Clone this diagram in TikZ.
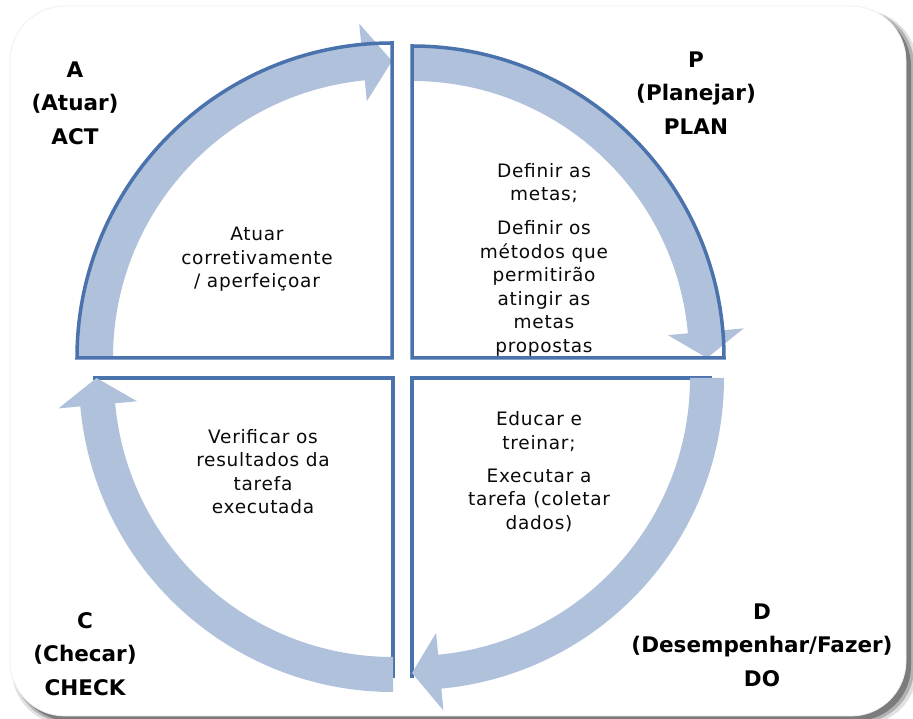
\documentclass[tikz,border=0pt]{standalone}
\usepackage{fontspec}
\setmainfont{DejaVu Sans}[LetterSpace=4]
\newfontfamily\labfont{DejaVu Sans}[LetterSpace=0]
\usetikzlibrary{calc}
\definecolor{bandc}{RGB}{176,193,219}
\definecolor{linec}{RGB}{74,114,172}
\definecolor{txtc}{RGB}{10,10,10}
\tikzset{
  band/.style={fill=bandc},
  pie/.style={draw=linec, line width=3.5pt, line join=miter},
  lab/.style={font=\labfont\bfseries\fontsize{21.5}{33.5}\selectfont, align=center, text=black, inner sep=0pt},
  body/.style={font=\fontsize{18.5}{23.5}\selectfont, align=center, text=txtc, inner sep=0pt}
}
\begin{document}
\begin{tikzpicture}[x=1pt,y=1pt]
\useasboundingbox (0,0) rectangle (913,719);
\fill[white] (0,0) rectangle (913,719);
% panel shadow
\fill[black, opacity=0.12] (12,-6) [rounded corners=55] rectangle (917,709);
\fill[black, opacity=0.2] (14,-4) [rounded corners=55] rectangle (914,709);
\fill[black, opacity=0.3] (15,-2) [rounded corners=55] rectangle (911,708);
% panel
\filldraw[fill=white, draw=black!6, line width=0.8pt] (10,3) [rounded corners=55] rectangle (906,713);

% centres
\coordinate (CTL) at (392,361);
\coordinate (CTR) at (412,361);
\coordinate (CBR) at (412,341);
\coordinate (CBL) at (393,341);

% bottom pies (outline under the arrows)
\fill[white] (CBR) -- ($(CBR)+(0:300)$) arc[start angle=0, end angle=-90, radius=300] -- cycle;
\draw[pie] ($(CBR)+(-90:300)$) -- (CBR) -- ($(CBR)+(0:300)$);
\fill[white] (CBL) -- ($(CBL)+(270:300)$) arc[start angle=270, end angle=180, radius=300] -- cycle;
\draw[pie] ($(CBL)+(180:300)$) -- (CBL) -- ($(CBL)+(270:300)$);

% top-left arrow (A)
\fill[band] ($(CTL)+(180:315)$) arc[start angle=180, end angle=95.6, radius=315]
  -- ($(CTL)+(95.6:336)$) -- ($(CTL)+(90:297)$) -- ($(CTL)+(95.6:258)$)
  -- ($(CTL)+(95.6:279)$) arc[start angle=95.6, end angle=180, radius=279] -- cycle;
% top-right arrow (P)
\fill[band] ($(CTR)+(90:312)$) arc[start angle=90, end angle=5.1, radius=312]
  -- ($(CTR)+(5.1:333)$) -- ($(CTR)+(0:295)$) -- ($(CTR)+(5.1:257)$)
  -- ($(CTR)+(5.1:277)$) arc[start angle=5.1, end angle=90, radius=277] -- cycle;
% bottom-right arrow (D)
\fill[band] ($(CBR)+(0:312)$) arc[start angle=0, end angle=-84.6, radius=312]
  -- ($(CBR)+(-84.6:334)$) -- ($(CBR)+(-90:295)$) -- ($(CBR)+(-84.6:256)$)
  -- ($(CBR)+(-84.6:278)$) arc[start angle=-84.6, end angle=0, radius=278] -- cycle;
% bottom-left arrow (C)
\fill[band] ($(CBL)+(270:314)$) arc[start angle=270, end angle=185.2, radius=314]
  -- ($(CBL)+(185.2:336)$) -- ($(CBL)+(180:296.5)$) -- ($(CBL)+(185.2:257)$)
  -- ($(CBL)+(185.2:279)$) arc[start angle=185.2, end angle=270, radius=279] -- cycle;

% top pies (outline over the arrows)
\draw[pie] (CTL) -- ($(CTL)+(180:315)$) arc[start angle=180, end angle=90, radius=315] -- cycle;
\draw[pie] (CTR) -- ($(CTR)+(90:312)$) arc[start angle=90, end angle=0, radius=312] -- cycle;

% labels
\node[lab] (labA) at (75,616) {A\\(Atuar)\\ACT};
\node[lab] (labP) at (696,626) {P\\(Planejar)\\PLAN};
\node[lab] (labC) at (85,65) {C\\(Checar)\\CHECK};
\node[lab] (labD) at (762,74) {D\\(Desempenhar/Fazer)\\DO};

% texts
\node[body] (txtA) at (257,459.5) {Atuar\\corretivamente\\/ aperfeiçoar};
\node[body] (txtP) at (544,459.5) {Definir as\\metas;\\[10.5pt]Definir os\\métodos que\\permitirão\\atingir as\\metas\\propostas};
\node[body] (txtD) at (539,247.5) {Educar e\\treinar;\\[9.5pt]Executar a\\tarefa (coletar\\dados)};
\node[body] (txtC) at (263,247.5) {Verificar os\\resultados da\\tarefa\\executada};
\end{tikzpicture}
\end{document}
